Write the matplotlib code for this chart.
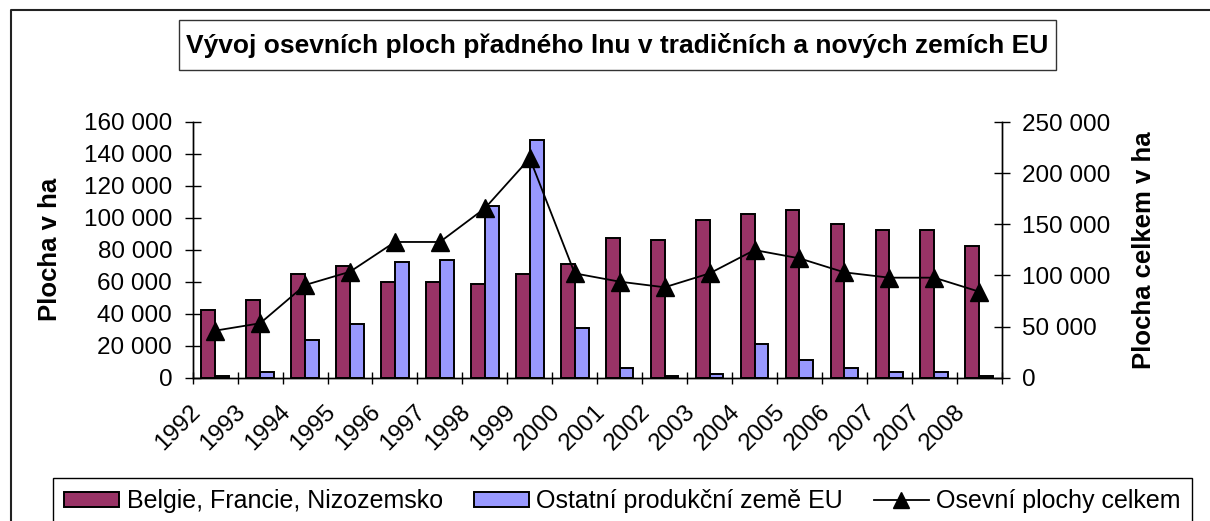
import matplotlib
matplotlib.use("Agg")
import matplotlib.pyplot as plt
import numpy as np
from matplotlib.patches import Rectangle
from matplotlib.lines import Line2D
from matplotlib.transforms import ScaledTranslation

plt.rcParams['font.family'] = ['Liberation Sans', 'DejaVu Sans']

years = ["1992", "1993", "1994", "1995", "1996", "1997", "1998", "1999", "2000",
         "2001", "2002", "2003", "2004", "2005", "2006", "2007", "2007", "2008"]
belgie = [42300, 48500, 64800, 70000, 60000, 60000, 58800, 64800, 71300,
          87500, 86300, 98800, 102300, 104800, 96000, 92300, 92300, 82300]
ostatni = [1200, 3500, 23800, 33800, 72300, 73500, 107300, 148500, 31000,
           6300, 1000, 2500, 21300, 11300, 6300, 3800, 3800, 1000]
celkem = [46000, 53200, 90600, 103600, 132700, 132700, 165600, 214500, 102000,
          93900, 88400, 102000, 124800, 116700, 103000, 97800, 97800, 84100]

labels = ["Belgie, Francie, Nizozemsko", "Ostatní produkční země EU", "Osevní plochy celkem"]
title = "Vývoj osevních ploch přadného lnu v tradičních a nových zemích EU"

W, H = 1210, 521
fig = plt.figure(figsize=(W / 100, H / 100), dpi=100)
fig.patch.set_facecolor('white')

def fx(px):
    return px / W

def fy(py):
    return 1 - py / H

ax = fig.add_axes([fx(192.7), fy(377.7), fx(1001.7) - fx(192.7), fy(122) - fy(377.7)])
ax2 = ax.twinx()

x = np.arange(len(years))
bw = 0.307
ax.bar(x - bw / 2, belgie, bw, color='#993366', edgecolor='black', linewidth=1.4, zorder=2)
ax.bar(x + bw / 2, ostatni, bw, color='#9999FF', edgecolor='black', linewidth=1.4, zorder=2)
ax2.plot(x, celkem, color='black', linewidth=1.3, marker='^', markersize=13,
         markerfacecolor='black', markeredgecolor='black')

fmt = plt.FuncFormatter(lambda v, _: f"{int(v):,}".replace(",", " "))

ax.set_xlim(-0.5, len(years) - 0.5)
ax.set_ylim(0, 160000)
ax.set_yticks(np.arange(0, 160001, 20000))
ax.yaxis.set_major_formatter(fmt)
ax2.set_ylim(0, 250000)
ax2.set_yticks(np.arange(0, 250001, 50000))
ax2.yaxis.set_major_formatter(fmt)

# category boundaries get the ticks, labels sit on minor ticks in the middle
ax.set_xticks(np.arange(-0.5, len(years), 1.0))
ax.set_xticklabels([])
ax.set_xticks(x, minor=True)
ax.set_xticklabels(years, minor=True, rotation=45, ha='right')
ax.tick_params(axis='x', which='major', direction='inout', length=8.6, width=1, colors='black')
ax.tick_params(axis='x', which='minor', length=0, pad=16.5, labelsize=17.5)
shift = ScaledTranslation(-10 / 100, 0, fig.dpi_scale_trans)
for lab in ax.get_xticklabels(minor=True):
    lab.set_transform(lab.get_transform() + shift)

ax.tick_params(axis='y', direction='inout', length=11.5, width=1, pad=9, labelsize=17.5)
ax2.tick_params(axis='y', direction='inout', length=11.5, width=1, pad=9, labelsize=17.5)

for a in (ax, ax2):
    a.spines['top'].set_visible(False)
    for s in ('left', 'right', 'bottom'):
        a.spines[s].set_color('black')
        a.spines[s].set_linewidth(1)
    a.grid(False)

ax.set_ylabel("Plocha v ha", fontsize=18.5, fontweight='bold')
ax.yaxis.set_label_coords(-0.1616, 0.5)
ax2.set_ylabel("Plocha celkem v ha", fontsize=18.5, fontweight='bold')
ax2.yaxis.set_label_coords(1.161, 0.5)

# outer chart frame (open to the right and bottom)
fig.add_artist(Line2D([fx(11), fx(11), 1], [0, fy(10), fy(10)],
                      transform=fig.transFigure, color='#222222', linewidth=1.5))

# title box
fig.add_artist(Rectangle((fx(179), fy(70)), fx(1056) - fx(179), fy(20) - fy(70),
                         transform=fig.transFigure, fill=False, edgecolor='#333333', linewidth=1))
fig.text(fx(617.5), fy(45), title, ha='center', va='center', fontsize=19, fontweight='bold')

handles = [
    Rectangle((0, 0), 1, 1, facecolor='#993366', edgecolor='black', linewidth=1.4),
    Rectangle((0, 0), 1, 1, facecolor='#9999FF', edgecolor='black', linewidth=1.4),
    Line2D([], [], color='black', linewidth=1.3, marker='^', markersize=11, markerfacecolor='black'),
]
leg = fig.legend(handles, labels, loc='upper left', ncol=3, mode='expand',
                 bbox_to_anchor=(fx(53), fy(478), fx(1192) - fx(53), 0),
                 bbox_transform=fig.transFigure, borderaxespad=0, fontsize=18,
                 frameon=True, fancybox=False, framealpha=1, edgecolor='black',
                 handlelength=2.2, handleheight=0.56, handletextpad=0.3,
                 columnspacing=0.5, borderpad=0.45)
leg.get_frame().set_linewidth(1)

fig.savefig("out.png", dpi=100, facecolor='white')
